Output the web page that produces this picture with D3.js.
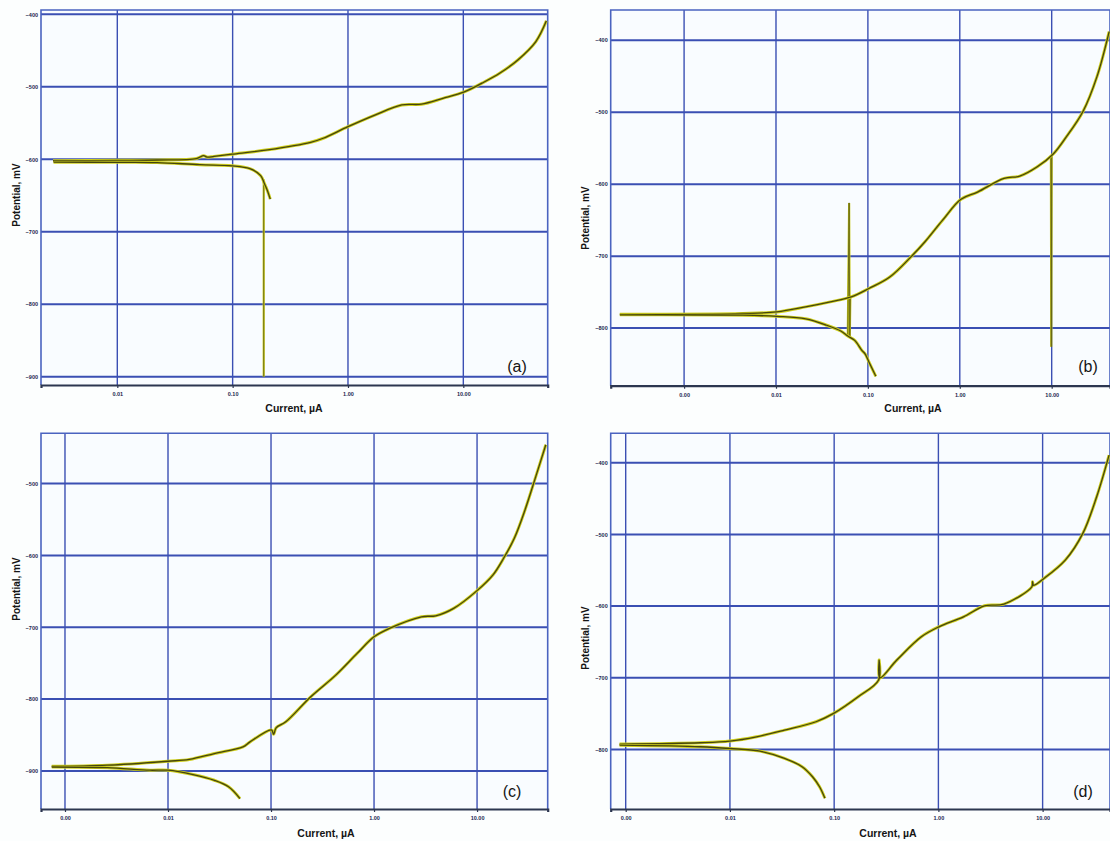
<!DOCTYPE html>
<html>
<head>
<meta charset="utf-8">
<script src="https://cdn.jsdelivr.net/npm/d3@7"></script>
<style>
  html, body { margin: 0; padding: 0; background: #fcfefe; }
  svg { display: block; font-family: "Liberation Sans", Arial, sans-serif; }
</style>
</head>
<body>
<svg id="chart" width="1110" height="841"></svg>
<script>
// ---- data ----
const panelNames = ['(a)', '(b)', '(c)', '(d)'];

const xTicksA = [0.01, 0.1, 1, 10];
const xTicksB = [0.001, 0.01, 0.1, 1, 10];
const xTicksC = [0.001, 0.01, 0.1, 1, 10];
const xTicksD = [0.001, 0.01, 0.1, 1, 10];

const yTicksA = [-400, -500, -600, -700, -800, -900];
const yTicksB = [-400, -500, -600, -700, -800];
const yTicksC = [-500, -600, -700, -800, -900];
const yTicksD = [-400, -500, -600, -700, -800];

const xRangeA = [0.00218, 53.9];
const xRangeB = [0.000159, 43.1];
const xRangeC = [0.000585, 48.5];
const xRangeD = [0.000718, 44.3];

const yRangeA = [-911.5, -394];
const yRangeB = [-880, -358];
const yRangeC = [-953, -430];
const yRangeD = [-883, -359];

// [current µA, potential mV]
const anodicA = [[0.00277,-602],[0.01,-601.5],[0.0221,-601],[0.0485,-599],[0.056,-595],[0.06,-597],
  [0.069,-596],[0.099,-593],[0.202,-587],[0.475,-576.6],[0.61,-571],[1.0,-555],[1.71,-539],
  [2.93,-525],[4.33,-524],[6.65,-516],[10.2,-507],[14.5,-495],[20.8,-481],[29.7,-463],[42.4,-438],[52.5,-409]];
const cathodicA = [[0.0028,-604],[0.01,-604.2],[0.0221,-604.5],[0.052,-607.5],[0.099,-609],[0.141,-613],
  [0.175,-622.6],[0.188,-633],[0.2,-643],[0.212,-655]];
const spikeA = [[0.186,-628],[0.186,-900]];

const anodicB = [[0.0002,-780.7],[0.00434,-779.7],[0.0102,-777.5],[0.021,-770.5],[0.039,-763.5],
  [0.066,-756.6],[0.1026,-745],[0.173,-729],[0.294,-701],[0.418,-680],[0.65,-650],[1.03,-621],
  [1.56,-611],[3.03,-592],[4.49,-588.8],[6.97,-575.8],[10.4,-558],[14.1,-536],[21.9,-499],
  [31.1,-450.6],[42.2,-388]];
const cathodicB = [[0.0002,-781.5],[0.00434,-782],[0.0102,-783.6],[0.021,-787],[0.0357,-796],
  [0.0507,-804],[0.0604,-811],[0.0719,-817],[0.086,-831],[0.0935,-836],[0.1026,-847],[0.122,-867]];
const spikeB1 = [[0.0604,-811],[0.0625,-626],[0.0635,-813],[0.0645,-755]];
const spikeB2 = [[9.8,-560],[9.9,-826],[10.0,-560]];

const anodicC = [[0.000744,-893.5],[0.00257,-892],[0.01,-886.5],[0.0161,-884],[0.0282,-875.8],
  [0.0534,-866.5],[0.0625,-859.6],[0.101,-843],[0.106,-849],[0.112,-840],[0.139,-831.7],
  [0.243,-796.8],[0.425,-766.6],[0.685,-736.4],[1.0,-713.2],[1.41,-701.6],[2.89,-685.4],
  [3.97,-684],[5.93,-673.7],[10.0,-649],[14.3,-627],[18.1,-604],[23,-576],[29.2,-536.7],
  [37.2,-490],[46.5,-446]];
const cathodicC = [[0.000744,-894.5],[0.00257,-895.5],[0.00668,-899],[0.01,-899],[0.0175,-905],
  [0.0282,-913],[0.0387,-922],[0.05,-938.5]];

const anodicD = [[0.000873,-792.5],[0.0052,-790.6],[0.01,-788.3],[0.018,-782.3],[0.0334,-773],
  [0.067,-761.3],[0.0989,-749.7],[0.17,-726.5],[0.267,-703.2],[0.27,-675.3],[0.274,-700],
  [0.399,-675.3],[0.686,-642.8],[1.01,-628.9],[1.74,-615],[2.77,-599.6],[4.25,-597.2],
  [7.89,-573],[8.0,-566],[8.2,-571],[10.3,-561.4],[16.5,-535.8],[24.3,-498.6],[33,-447.5],[43.4,-389.4]];
const cathodicD = [[0.000873,-794],[0.0052,-796.2],[0.01,-798.6],[0.0194,-802.3],[0.0334,-812.4],
  [0.0492,-824],[0.062,-838],[0.0724,-852],[0.0815,-868]];

// ---- layout ----
const panels = [
  {name: panelNames[0], box: {l: 41, r: 547.7, t: 10, b: 385}, xr: xRangeA, yr: yRangeA,
   xt: xTicksA, yt: yTicksA, curves: [anodicA, cathodicA], spikes: [spikeA],
   ylab: {x: 16, y: 195}, xlab: {x: 294, y: 412}, tag: {x: 517, y: 372}},
  {name: panelNames[1], box: {l: 610.7, r: 1110, t: 10, b: 385.7}, xr: xRangeB, yr: yRangeB,
   xt: xTicksB, yt: yTicksB, curves: [anodicB, cathodicB], spikes: [spikeB1, spikeB2],
   ylab: {x: 585, y: 218}, xlab: {x: 913, y: 412}, tag: {x: 1088, y: 372}},
  {name: panelNames[2], box: {l: 41, r: 547.7, t: 433.3, b: 809}, xr: xRangeC, yr: yRangeC,
   xt: xTicksC, yt: yTicksC, curves: [anodicC, cathodicC], spikes: [],
   ylab: {x: 16, y: 589}, xlab: {x: 326, y: 837}, tag: {x: 512, y: 797}},
  {name: panelNames[3], box: {l: 610.7, r: 1110, t: 433.3, b: 809}, xr: xRangeD, yr: yRangeD,
   xt: xTicksD, yt: yTicksD, curves: [anodicD, cathodicD], spikes: [],
   ylab: {x: 585, y: 638}, xlab: {x: 888, y: 837}, tag: {x: 1083, y: 797}}
];

const gridColor = '#3b4fb3';
const svg = d3.select('#chart');

panels.forEach((p, idx) => {
  const {l, r, t, b} = p.box;
  const x = d3.scaleLog().domain(p.xr).range([l, r]);
  const y = d3.scaleLinear().domain(p.yr).range([b, t]);
  const g = svg.append('g').attr('id', 'panel-' + idx);

  g.append('rect')
    .attr('x', l).attr('y', t).attr('width', r - l).attr('height', b - t)
    .attr('fill', '#f9fcff');

  g.append('clipPath').attr('id', 'clip-' + idx)
    .append('rect').attr('x', l).attr('y', t).attr('width', r - l).attr('height', b - t);

  // grid
  g.append('g').selectAll('line').data(p.yt).join('line')
    .attr('x1', l).attr('x2', r)
    .attr('y1', d => y(d)).attr('y2', d => y(d))
    .attr('stroke', gridColor).attr('stroke-width', 2);
  g.append('g').selectAll('line').data(p.xt).join('line')
    .attr('x1', d => x(d)).attr('x2', d => x(d))
    .attr('y1', t).attr('y2', b)
    .attr('stroke', gridColor).attr('stroke-width', 1.4);

  // frame
  g.append('path')
    .attr('d', `M${l},${b}V${t}H${r}V${b}`)
    .attr('fill', 'none').attr('stroke', '#4a63c0').attr('stroke-width', 1.6);

  // y axis labels
  const yAxis = d3.axisLeft(y).tickValues(p.yt).tickSize(0).tickPadding(3).tickFormat(d3.format('d'));
  g.append('g').attr('transform', `translate(${l},0)`).call(yAxis)
    .call(s => s.select('.domain').remove())
    .call(s => s.selectAll('text').attr('font-size', 5.5).attr('font-weight', 'bold')
      .attr('fill', '#1b2550').attr('font-family', '"Liberation Sans", Arial, sans-serif'));

  // x axis
  const xAxis = d3.axisBottom(x).tickValues(p.xt).tickSize(3).tickPadding(4).tickFormat(d3.format('.2f'));
  g.append('g').attr('transform', `translate(0,${b})`).call(xAxis)
    .call(s => s.select('.domain').attr('stroke', '#2c3650').attr('stroke-width', 2.2))
    .call(s => s.selectAll('.tick line').attr('stroke', '#2c3650').attr('stroke-width', 1.2))
    .call(s => s.selectAll('text').attr('font-size', 5.5).attr('font-weight', 'bold')
      .attr('fill', '#1b2550').attr('font-family', '"Liberation Sans", Arial, sans-serif'));

  // curves
  const smooth = d3.line().x(d => x(d[0])).y(d => y(d[1])).curve(d3.curveCatmullRom.alpha(0.5));
  const straight = d3.line().x(d => x(d[0])).y(d => y(d[1]));
  const cg = g.append('g').attr('clip-path', `url(#clip-${idx})`);

  p.spikes.forEach(s => {
    cg.append('path').attr('d', straight(s)).attr('fill', 'none')
      .attr('stroke', '#c8c81a').attr('stroke-width', 2.2);
    cg.append('path').attr('d', straight(s)).attr('fill', 'none')
      .attr('stroke', '#5a5a14').attr('stroke-width', 0.8);
  });
  p.curves.forEach(c => {
    cg.append('path').attr('d', smooth(c)).attr('fill', 'none')
      .attr('stroke', '#cfcf1c').attr('stroke-width', 3).attr('stroke-linejoin', 'round');
    cg.append('path').attr('d', smooth(c)).attr('fill', 'none')
      .attr('stroke', '#2c2c0c').attr('stroke-width', 1.3).attr('stroke-opacity', 0.85)
      .attr('stroke-linejoin', 'round');
  });

  // titles
  g.append('text')
    .attr('transform', `translate(${p.ylab.x},${p.ylab.y}) rotate(-90)`)
    .attr('text-anchor', 'middle').attr('dy', '0.35em')
    .attr('font-size', 10).attr('font-weight', 'bold').attr('fill', '#151515')
    .text('Potential, mV');
  g.append('text')
    .attr('x', p.xlab.x).attr('y', p.xlab.y)
    .attr('text-anchor', 'middle')
    .attr('font-size', 10.5).attr('fill', '#151515').attr('font-weight', 'bold')
    .attr('font-family', '"Liberation Sans Narrow", "Liberation Sans", Arial, sans-serif')
    .text('Current, µA');
  g.append('text')
    .attr('x', p.tag.x).attr('y', p.tag.y)
    .attr('text-anchor', 'middle')
    .attr('font-size', 16).attr('fill', '#151515')
    .text(p.name);
});
</script>
</body>
</html>
